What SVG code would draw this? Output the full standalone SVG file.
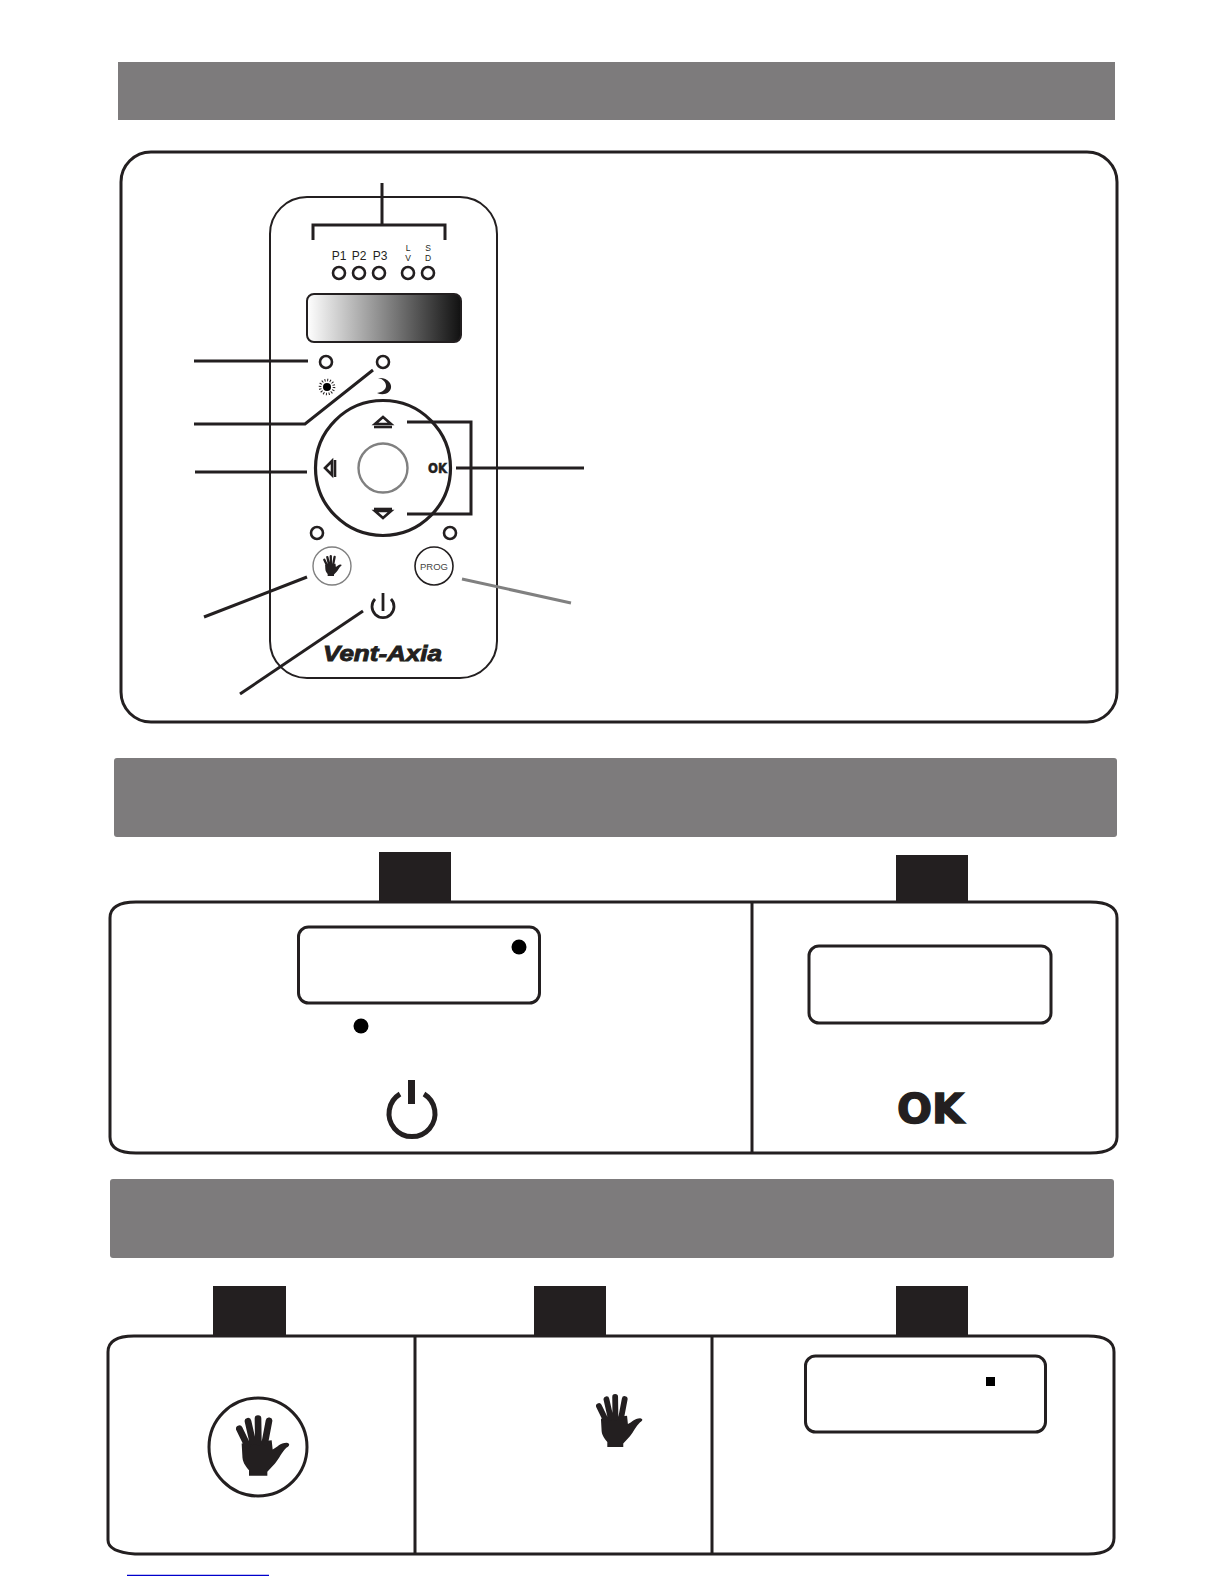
<svg xmlns="http://www.w3.org/2000/svg" xmlns:xlink="http://www.w3.org/1999/xlink" width="1225" height="1585" viewBox="0 0 1225 1585">
<style>
.hdr{fill:#7d7b7c}
.tab{fill:#231f20}
.pan{fill:#fff;stroke:#231f20;stroke-width:3}
.ln{fill:none;stroke:#231f20;stroke-width:3}
.led{fill:#fff;stroke:#231f20;stroke-width:2.6}
.disp{fill:#fff;stroke:#231f20;stroke-width:3}
.dot{fill:#000}
.lbl{font-family:"Liberation Sans",Arial,sans-serif;fill:#231f20;text-anchor:middle}
.ok{font-family:"DejaVu Sans",sans-serif;font-weight:700;fill:#231f20;stroke:#231f20}
</style>
<defs>
<linearGradient id="lcd" x1="0" x2="1" y1="0" y2="0"><stop offset="0" stop-color="#fff"/><stop offset="1" stop-color="#111"/></linearGradient>
<symbol id="hand" viewBox="138 165 162 182">
<path fill="#231f20" d="M155 250L245 240L248 268C262 262 270 248 290 248C302 250 298 258 290 262C275 275 268 295 255 310L232 335V347H177V330C165 315 157 305 157 285Z"/>
<path fill="none" stroke="#231f20" stroke-width="20" stroke-linecap="round" d="M148 206L172 255M174 183L188 245M204 175L205 245M237 182L225 245"/>
</symbol>
</defs>
<rect width="1225" height="1585" fill="#fff"/>

<g id="header-1"><rect class="hdr" x="118" y="62" width="997" height="58"/></g>
<g id="panel-1"><rect class="pan" x="121" y="152" width="996" height="570" rx="30"/></g>

<g id="remote">
<rect x="270" y="197" width="227" height="481" rx="37" fill="#fff" stroke="#231f20" stroke-width="2"/>
<text class="lbl" font-size="12" x="339" y="260">P1</text>
<text class="lbl" font-size="12" x="359" y="260">P2</text>
<text class="lbl" font-size="12" x="380" y="260">P3</text>
<text class="lbl" font-size="8.500" x="408" y="251">L</text>
<text class="lbl" font-size="8.500" x="408" y="261">V</text>
<text class="lbl" font-size="8.500" x="428" y="251">S</text>
<text class="lbl" font-size="8.500" x="428" y="261">D</text>
<circle class="led" cx="339" cy="273" r="6"/><circle class="led" cx="359" cy="273" r="6"/><circle class="led" cx="379" cy="273" r="6"/><circle class="led" cx="408" cy="273" r="6"/><circle class="led" cx="428" cy="273" r="6"/>
<rect x="307" y="294" width="154" height="48" rx="7" fill="url(#lcd)" stroke="#231f20" stroke-width="2"/>
<circle class="led" cx="326" cy="362" r="6"/><circle class="led" cx="383" cy="362" r="6"/>
<circle cx="327" cy="387" r="4" fill="#000"/>
<circle cx="327" cy="387" r="7" fill="none" stroke="#231f20" stroke-width="2.600" stroke-dasharray="1 1.750"/>
<path fill="#231f20" d="M378 378C388 377 392 384 391 388C390 393 384 396 377 393C383 392 386 389 386 386C386 382 383 379 378 378Z"/>
<circle cx="383" cy="468" r="67.500" fill="none" stroke="#231f20" stroke-width="3.200"/>
<circle cx="383" cy="468" r="24.500" fill="#fff" stroke="#808080" stroke-width="2.400"/>
<path fill="none" stroke="#231f20" stroke-width="2.600" d="M383 417L391 424H375Z"/><path stroke="#231f20" stroke-width="2.600" d="M374 427H392"/>
<path fill="none" stroke="#231f20" stroke-width="2.600" d="M383 518L391 511H375Z"/><path stroke="#231f20" stroke-width="2.600" d="M374 509H392"/>
<path fill="none" stroke="#231f20" stroke-width="2.600" d="M325 468L332 461V475Z"/><path stroke="#231f20" stroke-width="2.600" d="M335 460V477"/>
<text class="ok" font-size="13.500" stroke-width=".5" x="428" y="473" textLength="19" lengthAdjust="spacingAndGlyphs">OK</text>
<circle class="led" cx="317" cy="533" r="6"/><circle class="led" cx="450" cy="533" r="6"/>
<circle cx="332" cy="566" r="19" fill="#fff" stroke="#808080" stroke-width="1.400"/>
<use xlink:href="#hand" href="#hand" x="323" y="555" width="19" height="21"/>
<circle cx="434" cy="566" r="19" fill="#fff" stroke="#231f20" stroke-width="1.600"/>
<text class="lbl" font-size="9.500" x="434" y="570" style="fill:#444">PROG</text>
<path fill="none" stroke="#231f20" stroke-width="2.800" d="M375 599A11 11 0 1 0 391 599"/><path stroke="#231f20" stroke-width="2.800" d="M383 593V611"/>
<text x="323" y="661" font-family="Liberation Sans,Arial,sans-serif" font-size="22" font-weight="700" font-style="italic" fill="#231f20" stroke="#231f20" stroke-width=".9" textLength="119" lengthAdjust="spacingAndGlyphs">Vent-Axia</text>
</g>

<g id="connectors">
<path class="ln" d="M382 183V225M313 240V225H445V240"/>
<path class="ln" d="M194 361H308"/>
<path class="ln" d="M194 424H305L373 370"/>
<path class="ln" d="M195 472H307"/>
<path class="ln" d="M407 422H471V514H407M456 468H584"/>
<path class="ln" d="M307 577L204 617"/>
<path class="ln" style="stroke:#808080" d="M462 579L571 603"/>
<path class="ln" d="M363 611L240 694"/>
</g>

<g id="header-2"><rect class="hdr" x="114" y="758" width="1003" height="79" rx="3"/></g>
<g id="panel-2">
<path class="pan" d="M110 918Q110 902 136 902H1090Q1117 902 1117 918V1137Q1117 1153 1090 1153H136Q110 1153 110 1137Z"/>
<path class="ln" d="M752 902V1153"/>
</g>
<g id="step-1">
<rect class="tab" x="379" y="852" width="72" height="50"/>
<rect class="disp" x="298.500" y="927" width="241" height="76" rx="10"/>
<circle class="dot" cx="519" cy="947" r="7.500"/>
<circle class="dot" cx="361" cy="1026" r="7.500"/>
<path fill="none" stroke="#231f20" stroke-width="5" d="M400 1094A23 23 0 1 0 424 1094"/>
<rect x="408" y="1080" width="7" height="24" fill="#231f20"/>
</g>
<g id="step-2">
<rect class="tab" x="896" y="855" width="72" height="47"/>
<rect class="disp" x="809" y="946" width="242" height="77" rx="10"/>
<text class="ok" font-size="41" stroke-width="1.400" x="897" y="1123" textLength="67" lengthAdjust="spacingAndGlyphs">OK</text>
</g>

<g id="header-3"><rect class="hdr" x="110" y="1179" width="1004" height="79" rx="3"/></g>
<g id="panel-3">
<path class="pan" d="M108 1352Q108 1336 134 1336H1088Q1114 1336 1114 1352V1538Q1114 1554 1088 1554H135Q108 1552 108 1540Z"/>
<path class="ln" d="M415 1336V1554M712 1336V1554"/>
</g>
<g id="step-3">
<rect class="tab" x="213" y="1286" width="73" height="50"/>
<circle cx="258" cy="1447" r="49" fill="#fff" stroke="#231f20" stroke-width="3"/>
<use xlink:href="#hand" href="#hand" x="236" y="1415" width="54" height="61"/>
</g>
<g id="step-4">
<rect class="tab" x="534" y="1286" width="72" height="50"/>
<use xlink:href="#hand" href="#hand" x="596" y="1394" width="47" height="53"/>
</g>
<g id="step-5">
<rect class="tab" x="896" y="1286" width="72" height="50"/>
<rect class="disp" x="805.500" y="1356" width="240" height="76" rx="10"/>
<rect class="dot" x="986" y="1377" width="9" height="9"/>
</g>
<path id="link-rule" d="M127 1575.300H269" stroke="#0000cc" stroke-width="1.200"/>
</svg>
